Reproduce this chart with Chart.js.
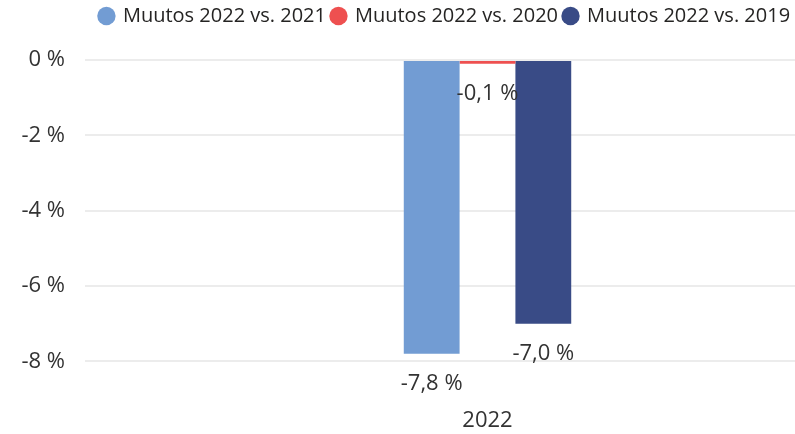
<!DOCTYPE html>
<html>
<head>
<meta charset="utf-8">
<script src="https://cdn.jsdelivr.net/npm/chart.js@4/dist/chart.umd.min.js"></script>
<style>
  html, body { margin: 0; padding: 0; background: #fff; overflow: hidden; }
  #wrap { width: 890px; height: 434px; position: relative; }
</style>
</head>
<body>
<div id="wrap"><canvas id="chart"></canvas></div>
<script>
// data
const categories = ["2022"];
const seriesNames = ["Muutos 2022 vs. 2021", "Muutos 2022 vs. 2020", "Muutos 2022 vs. 2019"];
const seriesValues = [[-7.8], [-0.1], [-7.0]];
const seriesColors = ["#729CD3", "#EE5050", "#394B86"];
const yTicks = [0, -2, -4, -6, -8];

const fmt = (v, d) => v.toFixed(d).replace(".", ",").replace("-0,0", "0") + " %";

// data labels below the bar ends
const barLabels = {
  id: "barLabels",
  afterDatasetsDraw(chart) {
    const ctx = chart.ctx;
    ctx.save();
    ctx.font = '22px "Open Sans", sans-serif';
    ctx.fillStyle = "#333";
    ctx.textAlign = "center";
    ctx.textBaseline = "middle";
    chart.data.datasets.forEach((ds, i) => {
      chart.getDatasetMeta(i).data.forEach((bar, j) => {
        ctx.fillText(fmt(ds.data[j], 1), bar.x, bar.y + 30);
      });
    });
    ctx.restore();
  }
};

// extra room under the legend
const legendGap = {
  id: "legendGap",
  afterInit(chart) {
    const fit = chart.legend.fit;
    chart.legend.fit = function () {
      fit.call(this);
      this.height += 24;
    };
  }
};

new Chart(document.getElementById("chart"), {
  type: "bar",
  data: {
    labels: categories,
    datasets: seriesNames.map((name, i) => ({
      label: name,
      data: seriesValues[i],
      backgroundColor: seriesColors[i],
      borderWidth: 0
    }))
  },
  options: {
    responsive: true,
    maintainAspectRatio: false,
    animation: false,
    categoryPercentage: 0.208,
    barPercentage: 1,
    plugins: {
      legend: {
        position: "top",
        labels: {
          usePointStyle: true,
          pointStyle: "circle",
          boxWidth: 13,
          boxHeight: 13,
          padding: 6,
          color: "#252423",
          font: { family: '"Open Sans", sans-serif', size: 20 }
        }
      },
      tooltip: { enabled: false }
    },
    scales: {
      x: {
        afterFit: (scale) => { scale.height = 35; },
        grid: { display: false },
        border: { display: false },
        ticks: { color: "#333", padding: 1, font: { family: '"Open Sans", sans-serif', size: 22 } }
      },
      y: {
        min: -9,
        max: 0,
        afterBuildTicks: (scale) => { scale.ticks = yTicks.map((v) => ({ value: v })); },
        afterFit: (scale) => { scale.width = 85; },
        grid: { color: "#ECECEC", lineWidth: 2, drawTicks: false },
        border: { display: false },
        ticks: {
          color: "#333",
          padding: 20,
          font: { family: '"Open Sans", sans-serif', size: 22 },
          callback: (v) => fmt(v, 0)
        }
      }
    }
  },
  plugins: [barLabels, legendGap]
});
</script>
</body>
</html>
